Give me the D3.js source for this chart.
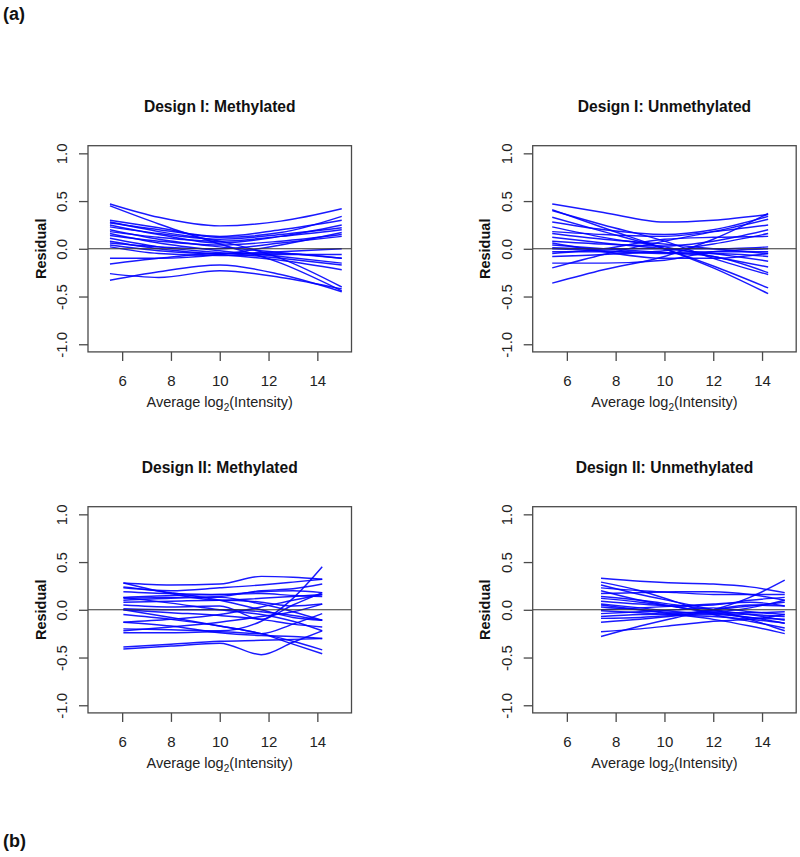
<!DOCTYPE html>
<html><head><meta charset="utf-8">
<script src="https://cdn.jsdelivr.net/npm/d3@7"></script>
<style>
body{margin:0;background:#fff}
svg{display:block;font-family:"Liberation Sans",Arial,Helvetica,sans-serif}
</style>
</head><body>
<svg id="c" width="800" height="857"></svg>
<script>
// ---------- data ----------
const panelTitles = ["Design I: Methylated", "Design I: Unmethylated", "Design II: Methylated", "Design II: Unmethylated"];
const xTicks = [6, 8, 10, 12, 14];
const yTicks = [-1.0, -0.5, 0.0, 0.5, 1.0];
const yTickLabels = ["-1.0", "-0.5", "0.0", "0.5", "1.0"];
const xDomain = [4.6, 15.4];
const yDomain = [-1.08, 1.08];
const yLabel = "Residual";

// Design I: Methylated
const p1Knots = [5.5, 7.5, 10, 12.5, 15];
const p1Lines = [
  [0.47, 0.33, 0.24, 0.29, 0.42],
  [0.45, 0.26, 0.05, -0.15, -0.44],
  [0.30, 0.22, 0.12, 0.17, 0.34],
  [0.28, 0.18, 0.08, -0.10, -0.40],
  [0.27, 0.20, 0.13, 0.20, 0.30],
  [0.25, 0.15, 0.06, 0.13, 0.25],
  [0.23, 0.16, 0.10, 0.15, 0.22],
  [0.20, 0.10, 0.02, -0.04, -0.10],
  [0.18, 0.12, 0.08, 0.13, 0.20],
  [0.16, 0.06, -0.02, -0.08, -0.15],
  [0.14, 0.08, 0.04, 0.08, 0.15],
  [0.11, 0.02, -0.04, -0.10, -0.17],
  [0.08, 0.00, -0.06, -0.12, -0.22],
  [0.06, 0.02, 0.00, 0.06, 0.13],
  [0.04, -0.02, -0.05, -0.03, 0.00],
  [0.02, -0.05, -0.07, -0.06, -0.06],
  [-0.10, -0.10, -0.06, 0.04, 0.17],
  [-0.16, -0.10, -0.05, -0.05, -0.10],
  [-0.26, -0.30, -0.23, -0.30, -0.42],
  [-0.33, -0.24, -0.17, -0.27, -0.45]
];

// Design I: Unmethylated
const p2Knots = [5.4, 7.5, 10, 12, 14.25];
const p2Lines = [
  [0.47, 0.38, 0.28, 0.30, 0.36],
  [0.41, 0.22, 0.00, -0.20, -0.47],
  [0.40, 0.25, 0.08, -0.10, -0.27],
  [0.33, 0.18, 0.00, -0.18, -0.41],
  [0.28, 0.20, 0.15, 0.20, 0.34],
  [0.23, 0.12, 0.02, -0.08, -0.19],
  [0.18, 0.15, 0.13, 0.18, 0.25],
  [0.16, 0.10, 0.05, 0.00, -0.05],
  [0.12, 0.06, 0.00, -0.05, -0.13],
  [0.08, 0.05, 0.03, 0.08, 0.20],
  [0.04, 0.00, -0.04, -0.08, -0.25],
  [0.01, 0.00, 0.00, 0.00, 0.02],
  [0.00, -0.02, -0.04, -0.03, -0.03],
  [-0.03, -0.03, -0.05, -0.05, -0.08],
  [-0.05, 0.00, 0.10, 0.12, 0.13],
  [-0.08, -0.06, -0.02, 0.05, 0.16],
  [-0.15, -0.15, -0.12, -0.03, 0.00],
  [-0.20, -0.06, 0.08, 0.18, 0.31],
  [-0.36, -0.22, -0.08, 0.10, 0.37],
  [0.06, -0.03, -0.10, -0.10, -0.05]
];

// Design II: Methylated
const p3Knots = [6.05, 8, 10, 11.7, 13, 14.2];
const p3Lines = [
  [0.28, 0.26, 0.27, 0.35, 0.34, 0.32],
  [0.23, 0.20, 0.23, 0.26, 0.29, 0.32],
  [0.28, 0.17, 0.10, 0.12, 0.14, 0.16],
  [0.19, 0.17, 0.16, 0.19, 0.20, 0.18],
  [0.13, 0.15, 0.16, 0.17, 0.15, 0.14],
  [0.12, 0.13, 0.14, 0.20, 0.22, 0.27],
  [0.08, 0.09, 0.10, 0.08, 0.04, 0.06],
  [0.05, 0.03, 0.04, -0.10, 0.05, 0.18],
  [0.01, 0.00, 0.00, -0.02, -0.06, -0.11],
  [0.00, -0.03, -0.06, -0.10, -0.15, -0.18],
  [0.13, 0.07, 0.00, -0.05, -0.12, -0.22],
  [-0.13, -0.10, -0.05, 0.03, 0.10, 0.16],
  [-0.22, -0.18, -0.13, -0.07, -0.02, 0.06],
  [-0.24, -0.24, -0.23, -0.25, -0.15, -0.04],
  [-0.13, -0.17, -0.24, -0.27, -0.28, -0.30],
  [0.00, -0.08, -0.17, -0.25, -0.36, -0.46],
  [-0.39, -0.36, -0.33, -0.32, -0.31, -0.30],
  [-0.41, -0.38, -0.35, -0.47, -0.34, -0.22],
  [-0.20, -0.21, -0.22, -0.12, 0.12, 0.45],
  [0.10, 0.12, 0.13, 0.06, -0.02, -0.11],
  [0.24, 0.18, 0.10, 0.00, -0.08, -0.11],
  [-0.05, -0.10, -0.17, -0.25, -0.33, -0.42]
];

// Design II: Unmethylated
const p4Knots = [7.4, 9, 10.5, 12, 13.5, 14.93];
const p4Lines = [
  [0.33, 0.30, 0.28, 0.27, 0.24, 0.18],
  [0.29, 0.20, 0.08, -0.05, -0.12, -0.19],
  [0.26, 0.16, 0.08, 0.00, -0.10, -0.22],
  [0.23, 0.20, 0.18, 0.16, 0.16, 0.16],
  [0.17, 0.18, 0.19, 0.19, 0.16, 0.10],
  [0.14, 0.10, 0.05, 0.00, -0.05, -0.11],
  [0.09, 0.06, 0.04, 0.05, 0.10, 0.13],
  [0.06, 0.02, -0.02, -0.04, -0.05, -0.07],
  [0.03, 0.00, -0.03, -0.03, -0.03, -0.02],
  [-0.01, -0.03, -0.05, -0.05, -0.08, -0.14],
  [-0.07, -0.05, -0.04, 0.00, 0.04, 0.08],
  [-0.09, -0.08, -0.06, -0.07, -0.10, -0.14],
  [-0.13, -0.10, -0.06, 0.00, 0.05, 0.04],
  [-0.23, -0.20, -0.16, -0.12, -0.10, -0.05],
  [-0.28, -0.17, -0.08, 0.00, 0.13, 0.31],
  [0.05, 0.00, -0.05, -0.10, -0.17, -0.25],
  [0.12, 0.08, 0.03, -0.02, 0.02, 0.10],
  [0.00, 0.02, 0.04, 0.06, 0.08, 0.04],
  [-0.04, -0.02, 0.00, 0.02, -0.02, -0.05],
  [0.20, 0.10, 0.03, -0.03, -0.08, -0.10]
];

// ---------- drawing ----------
const svg = d3.select("#c");
const panels = [
  {title: panelTitles[0], knots: p1Knots, lines: p1Lines, left: 88,    top: 145.7},
  {title: panelTitles[1], knots: p2Knots, lines: p2Lines, left: 532.7, top: 145.7},
  {title: panelTitles[2], knots: p3Knots, lines: p3Lines, left: 88,    top: 506.7},
  {title: panelTitles[3], knots: p4Knots, lines: p4Lines, left: 532.7, top: 506.7}
];
const W = 263.5, H = 206.2;
const axisCol = "#4a4a4a";

svg.append("text").attr("x", 3).attr("y", 19.5).attr("font-size", 18).attr("font-weight", "bold").attr("fill", "#111").text("(a)");
svg.append("text").attr("x", 3).attr("y", 847).attr("font-size", 18).attr("font-weight", "bold").attr("fill", "#111").text("(b)");

panels.forEach(p => {
  const g = svg.append("g").attr("transform", `translate(${p.left},${p.top})`);
  const x = d3.scaleLinear().domain(xDomain).range([0, W]);
  const y = d3.scaleLinear().domain(yDomain).range([H, 0]);

  // curves
  const line = d3.line().x(d => x(d[0])).y(d => y(d[1])).curve(d3.curveMonotoneX);
  g.append("g").selectAll("path").data(p.lines).join("path")
    .attr("d", vals => line(vals.map((v, i) => [p.knots[i], v])))
    .attr("fill", "none").attr("stroke", "#0000ff").attr("stroke-width", 1.45)
    .attr("stroke-opacity", 0.9);

  // zero line
  g.append("line").attr("x1", 0).attr("x2", W).attr("y1", y(0)).attr("y2", y(0))
    .attr("stroke", "#333").attr("stroke-width", 1.1);

  // box
  g.append("rect").attr("x", 0).attr("y", 0).attr("width", W).attr("height", H)
    .attr("fill", "none").attr("stroke", axisCol).attr("stroke-width", 1.3);

  // x axis
  const xa = g.append("g").attr("transform", `translate(0,${H})`)
    .call(d3.axisBottom(x).tickValues(xTicks).tickSize(9).tickFormat(d3.format("d")));
  xa.select(".domain").remove();
  xa.selectAll("line").attr("stroke", axisCol).attr("stroke-width", 1.3);
  xa.selectAll("text").attr("y", 34).attr("dy", null).attr("font-size", 15)
    .attr("fill", "#222").style("font-family", "'Liberation Sans',Arial,sans-serif");

  // y axis
  const ya = g.append("g")
    .call(d3.axisLeft(y).tickValues(yTicks).tickSize(9).tickFormat((d, i) => yTickLabels[i]));
  ya.select(".domain").remove();
  ya.selectAll("line").attr("stroke", axisCol).attr("stroke-width", 1.3);
  ya.selectAll("text").attr("x", null).attr("dy", null)
    .attr("transform", "translate(-21,0) rotate(-90)")
    .attr("text-anchor", "middle").attr("font-size", 15).attr("fill", "#222")
    .style("font-family", "'Liberation Sans',Arial,sans-serif");

  // y label
  g.append("text").attr("transform", `translate(-42.5,${H / 2}) rotate(-90)`)
    .attr("text-anchor", "middle").attr("font-size", 14.5).attr("font-weight", "bold")
    .attr("fill", "#111").text(yLabel);

  // x label with subscript
  const xl = g.append("text").attr("x", W / 2).attr("y", H + 55.2)
    .attr("text-anchor", "middle").attr("font-size", 14.5).attr("fill", "#222");
  xl.append("tspan").text("Average log");
  xl.append("tspan").attr("font-size", 10).attr("dy", 3.5).text("2");
  xl.append("tspan").attr("dy", -3.5).text("(Intensity)");

  // title
  g.append("text").attr("x", W / 2).attr("y", -33.4).attr("text-anchor", "middle")
    .attr("font-size", 15.6).attr("font-weight", "bold").attr("fill", "#111").text(p.title);
});
</script>
</body></html>
